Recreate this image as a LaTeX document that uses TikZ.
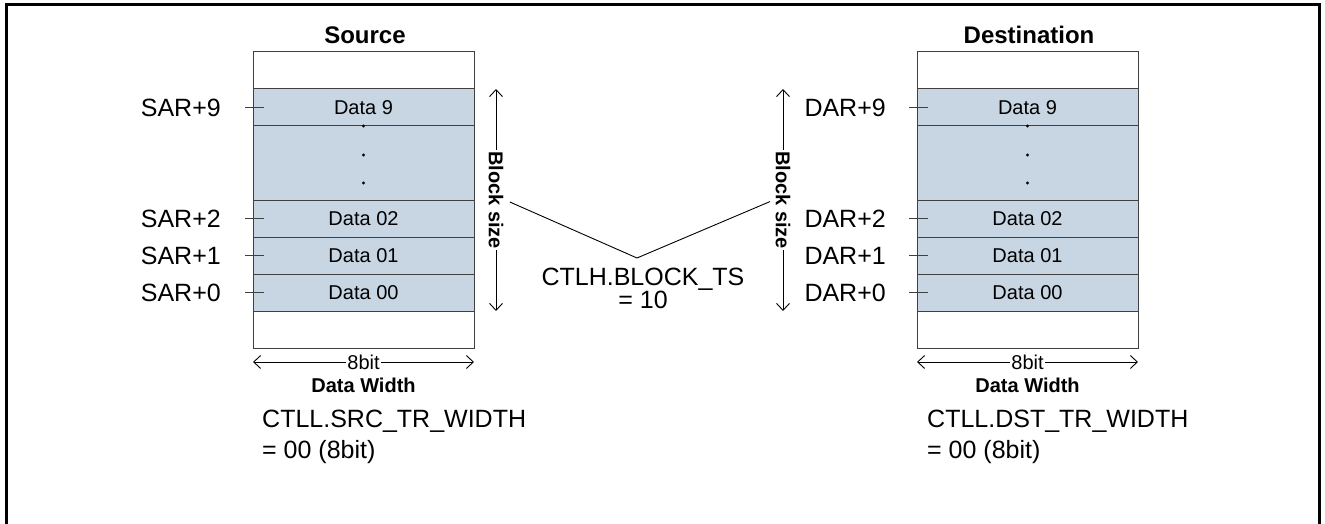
\documentclass[tikz,border=0pt]{standalone}
\usepackage{fontspec}
\setmainfont{Liberation Sans}
\usetikzlibrary{arrows.meta,positioning}

\definecolor{cellblue}{RGB}{200,214,228}
\definecolor{edgegray}{RGB}{64,64,64}

\begin{document}
\begin{tikzpicture}[x=1pt,y=-1pt,
		cell/.style={draw=edgegray,fill=cellblue,line width=1pt,minimum width=221pt,minimum height=37pt,inner sep=0pt,outer sep=0pt,font=\fontsize{20}{24}\selectfont},
		blank/.style={cell,fill=white},
		addr/.style={inner sep=0pt,font=\fontsize{25}{30}\selectfont},
		title/.style={inner sep=0pt,font=\fontsize{24}{28}\selectfont\bfseries},
		bsize/.style={rotate=-90,fill=white,inner sep=1.5pt,font=\fontsize{20}{24}\selectfont\bfseries},
		dimline/.style={line width=0.9pt,{Straight Barb[length=7pt,width=13pt]}-{Straight Barb[length=7pt,width=13pt]}},
		addrtick/.style={line width=0.9pt,edgegray},
		dotmark/.style={circle,fill=black,inner sep=1.2pt}]
	\useasboundingbox (0,0) rectangle (1325,524);
	%% outer frame
	\draw[line width=3pt] (6.5,524) -- (6.5,4.5) -- (1319.5,4.5) -- (1319.5,524);
	%% source memory
	\node[title,anchor=base] (src) at (365,43.5) {Source};
	\node[blank] (stop) at (363.5,70.5) {};
	\node[cell] (s9) at (363.5,107.5) {Data 9};
	\node[cell,minimum height=74pt] (sdots) at (363.5,163) {};
	\node[cell] (s2) at (363.5,218.5) {Data 02};
	\node[cell] (s1) at (363.5,255.5) {Data 01};
	\node[cell] (s0) at (363.5,292.5) {Data 00};
	\node[blank] (sbot) at (363.5,329.5) {};
	\node[dotmark] (sd1) at (363.5,126) {};
	\node[dotmark] (sd2) at (363.5,155) {};
	\node[dotmark] (sd3) at (363.5,183) {};
	%% source addresses
	\node[addr,anchor=east] (sar9) at (221,107.5) {SAR+9};
	\node[addr,anchor=east] (sar2) at (221,218.5) {SAR+2};
	\node[addr,anchor=east] (sar1) at (221,255.5) {SAR+1};
	\node[addr,anchor=east] (sar0) at (221,292.5) {SAR+0};
	\draw[addrtick] ([xshift=-8pt]s9.west) -- ([xshift=11pt]s9.west);
	\draw[addrtick] ([xshift=-8pt]s2.west) -- ([xshift=11pt]s2.west);
	\draw[addrtick] ([xshift=-8pt]s1.west) -- ([xshift=11pt]s1.west);
	\draw[addrtick] ([xshift=-8pt]s0.west) -- ([xshift=11pt]s0.west);
	%% destination memory
	\node[title,anchor=base] (dst) at (1029,43.5) {Destination};
	\node[blank] (dtop) at (1027.5,70.5) {};
	\node[cell] (d9) at (1027.5,107.5) {Data 9};
	\node[cell,minimum height=74pt] (ddots) at (1027.5,163) {};
	\node[cell] (d2) at (1027.5,218.5) {Data 02};
	\node[cell] (d1) at (1027.5,255.5) {Data 01};
	\node[cell] (d0) at (1027.5,292.5) {Data 00};
	\node[blank] (dbot) at (1027.5,329.5) {};
	\node[dotmark] (dd1) at (1027.5,126) {};
	\node[dotmark] (dd2) at (1027.5,155) {};
	\node[dotmark] (dd3) at (1027.5,183) {};
	%% destination addresses
	\node[addr,anchor=east] (dar9) at (886,107.5) {DAR+9};
	\node[addr,anchor=east] (dar2) at (886,218.5) {DAR+2};
	\node[addr,anchor=east] (dar1) at (886,255.5) {DAR+1};
	\node[addr,anchor=east] (dar0) at (886,292.5) {DAR+0};
	\draw[addrtick] ([xshift=-8pt]d9.west) -- ([xshift=11pt]d9.west);
	\draw[addrtick] ([xshift=-8pt]d2.west) -- ([xshift=11pt]d2.west);
	\draw[addrtick] ([xshift=-8pt]d1.west) -- ([xshift=11pt]d1.west);
	\draw[addrtick] ([xshift=-8pt]d0.west) -- ([xshift=11pt]d0.west);
	%% block size
	\coordinate (sbtop) at (496,89);
	\coordinate (sbbot) at (496,311);
	\coordinate (dbtop) at (783,89);
	\coordinate (dbbot) at (783,311);
	\draw[dimline] (sbtop) -- (sbbot) node[midway,bsize] (bsL) {Block size};
	\draw[dimline] (dbtop) -- (dbbot) node[midway,bsize] (bsR) {Block size};
	\node[addr,align=center,anchor=north,font=\fontsize{25}{22}\selectfont] (bts) at (643,267.5) {CTLH.BLOCK\_TS\\= 10};
	\coordinate (apex) at (637,258);
	\draw[line width=0.9pt,shorten <=5pt,shorten >=4pt] (bsL.north) -- (apex) -- (bsR.south);
	%% data width
	\coordinate (swl) at (253,362);
	\coordinate (swr) at (474,362);
	\coordinate (dwl) at (917,362);
	\coordinate (dwr) at (1138,362);
	\draw[dimline] (swl) -- (swr) node[midway,fill=white,inner sep=1pt,font=\fontsize{20}{24}\selectfont] (s8bit) {8bit};
	\draw[dimline] (dwl) -- (dwr) node[midway,fill=white,inner sep=1pt,font=\fontsize{20}{24}\selectfont] (d8bit) {8bit};
	\node[inner sep=0pt,font=\fontsize{20}{24}\selectfont\bfseries] (swidth) at (363.5,385) {Data Width};
	\node[inner sep=0pt,font=\fontsize{20}{24}\selectfont\bfseries] (dwidth) at (1027.5,385) {Data Width};
	\node[addr,align=left,anchor=north west,font=\fontsize{25}{31}\selectfont] (sreg) at (262,410) {CTLL.SRC\_TR\_WIDTH\\= 00 (8bit)};
	\node[addr,align=left,anchor=north west,font=\fontsize{25}{31}\selectfont] (dreg) at (927,410) {CTLL.DST\_TR\_WIDTH\\= 00 (8bit)};
\end{tikzpicture}
\end{document}
